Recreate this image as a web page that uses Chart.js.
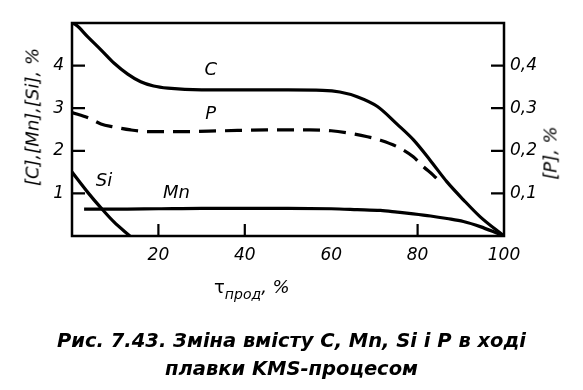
<!DOCTYPE html>
<html>
<head>
<meta charset="utf-8">
<script src="https://cdn.jsdelivr.net/npm/chart.js@4.4.1/dist/chart.umd.min.js"></script>
<style>
  html, body { margin: 0; padding: 0; background: #fff; }
  #wrap { position: relative; width: 583px; height: 390px; overflow: hidden; }
  #c { position: absolute; left: 0; top: 0; }
  .t { position: absolute; color: #000; font-family: 'DejaVu Sans', sans-serif; white-space: nowrap; pointer-events: none; }
</style>
</head>
<body>
<div id="wrap">
  <canvas id="c" width="583" height="390"></canvas>
  <div class="t" id="xtitle" style="left:214px; top:276px; font-size:18px;">τ<span style="font-style:italic; font-size:14px; position:relative; top:6px;">прод</span><span style="font-style:italic;">, %</span></div>
  <div class="t" id="ytitle" style="left:32px; top:117px; font-size:18px; font-style:italic; transform: translate(-50%,-50%) rotate(-90deg);">[C],[Mn],[Si], %</div>
  <div class="t" id="y2title" style="left:550px; top:153px; font-size:18px; font-style:italic; transform: translate(-50%,-50%) rotate(-90deg);">[P], %</div>
  <div class="t" id="cap" style="left:0; width:583px; top:327px; text-align:center; font-size:19.5px; font-weight:bold; font-style:italic; line-height:28px;">Рис. 7.43. Зміна вмісту C, Mn, Si і P в ході<br>плавки KMS-процесом</div>
</div>
<script>
// ---- data ----
const cX  = [0, 1, 3.6, 6.7, 9.7, 12.9, 15.9, 18.9, 22.2, 30, 40, 50, 58, 62, 66, 70.7, 75.3, 79.1, 82.9, 86.8, 90.6, 94.5, 100];
const cY  = [5, 4.95, 4.68, 4.37, 4.06, 3.80, 3.62, 3.52, 3.47, 3.43, 3.43, 3.43, 3.42, 3.38, 3.27, 3.04, 2.62, 2.25, 1.78, 1.27, 0.85, 0.45, 0];

const pX  = [0, 3.9, 6.7, 9.7, 13.6, 18, 25, 35, 45, 55, 60, 64.4, 68.4, 71.4, 75.2, 79, 81.3, 83.6, 85.2];
const pY  = [0.29, 0.277, 0.263, 0.256, 0.249, 0.245, 0.245, 0.247, 0.249, 0.249, 0.247, 0.241, 0.233, 0.225, 0.21, 0.186, 0.163, 0.143, 0.127];

const mnX = [2.8, 10, 20, 30, 40, 50, 60, 66, 71.4, 75.3, 79, 83, 86.8, 90.6, 94.5, 98.3, 100];
const mnY = [0.63, 0.63, 0.64, 0.65, 0.65, 0.65, 0.64, 0.62, 0.6, 0.56, 0.52, 0.47, 0.41, 0.34, 0.22, 0.07, 0];

const siX = [0, 3.6, 6.7, 9.7, 13.4];
const siY = [1.5, 1.03, 0.66, 0.33, 0];

const xTickLabels  = [20, 40, 60, 80, 100];
const xTickMarks   = [20, 40, 80];
const yTickLabels  = [1, 2, 3, 4];
const y2TickLabels = [0.1, 0.2, 0.3, 0.4];

// curve name labels: [text, x, y(left axis units)]
const curveNames = ['C', 'P', 'Si', 'Mn'];
const curveNameX = [32.1, 32.1, 7.4, 24.2];
const curveNameY = [3.9, 2.86, 1.29, 1.01];

// ---- build ----
const pts = (xs, ys) => xs.map((x, i) => ({ x: x, y: ys[i] }));
const tickFont = { family: "'DejaVu Sans', sans-serif", size: 17, style: 'italic' };

const decor = {
  id: 'decor',
  afterDatasetsDraw(chart) {
    const ctx = chart.ctx, a = chart.chartArea;
    const sx = chart.scales.x, sy = chart.scales.y, sy2 = chart.scales.y1;
    ctx.save();
    ctx.strokeStyle = '#000';
    ctx.lineWidth = 2.5;
    ctx.strokeRect(a.left, a.top, a.right - a.left, a.bottom - a.top);
    ctx.lineWidth = 2.2;
    ctx.beginPath();
    xTickMarks.forEach(v => { const p = sx.getPixelForValue(v); ctx.moveTo(p, a.bottom); ctx.lineTo(p, a.bottom - 12); });
    yTickLabels.forEach(v => { const p = sy.getPixelForValue(v); ctx.moveTo(a.left, p); ctx.lineTo(a.left + 13, p); });
    y2TickLabels.forEach(v => { const p = sy2.getPixelForValue(v); ctx.moveTo(a.right, p); ctx.lineTo(a.right - 13, p); });
    ctx.stroke();
    ctx.fillStyle = '#000';
    ctx.font = "italic 18px 'DejaVu Sans', sans-serif";
    ctx.textAlign = 'center';
    ctx.textBaseline = 'middle';
    curveNames.forEach((t, i) => ctx.fillText(t, sx.getPixelForValue(curveNameX[i]), sy.getPixelForValue(curveNameY[i])));
    ctx.restore();
  }
};

const line = (data, axis, dash) => ({
  data: data, yAxisID: axis, borderColor: '#000', borderWidth: 3.2, borderDash: dash || [],
  pointRadius: 0, fill: false, cubicInterpolationMode: 'monotone', borderCapStyle: 'butt'
});

new Chart(document.getElementById('c'), {
  type: 'line',
  data: {
    datasets: [
      line(pts(cX, cY), 'y'),
      line(pts(pX, pY), 'y1', [17, 9]),
      line(pts(mnX, mnY), 'y'),
      line(pts(siX, siY), 'y')
    ]
  },
  options: {
    responsive: false, animation: false, devicePixelRatio: 1,
    parsing: true,
    layout: { padding: { top: 23, left: 0, right: 0, bottom: 0 } },
    plugins: { legend: { display: false }, tooltip: { enabled: false }, title: { display: false } },
    scales: {
      x: {
        type: 'linear', min: 0, max: 100,
        afterBuildTicks: s => { s.ticks = xTickLabels.map(v => ({ value: v })); },
        afterFit: s => { s.height = 154; },
        ticks: { color: '#000', font: tickFont, padding: 9, maxRotation: 0, autoSkip: false, callback: v => String(v) },
        grid: { display: false, drawTicks: false }, border: { display: false }
      },
      y: {
        position: 'left', min: 0, max: 5,
        afterBuildTicks: s => { s.ticks = yTickLabels.map(v => ({ value: v })); },
        afterFit: s => { s.width = 72; },
        ticks: { color: '#000', font: tickFont, padding: 8, callback: v => String(v) },
        grid: { display: false, drawTicks: false }, border: { display: false }
      },
      y1: {
        position: 'right', min: 0, max: 0.5,
        afterBuildTicks: s => { s.ticks = y2TickLabels.map(v => ({ value: v })); },
        afterFit: s => { s.width = 79; },
        ticks: { color: '#000', font: tickFont, padding: 6, callback: v => v.toFixed(1).replace('.', ',') },
        grid: { display: false, drawTicks: false }, border: { display: false }
      }
    }
  },
  plugins: [decor]
});
</script>
</body>
</html>
